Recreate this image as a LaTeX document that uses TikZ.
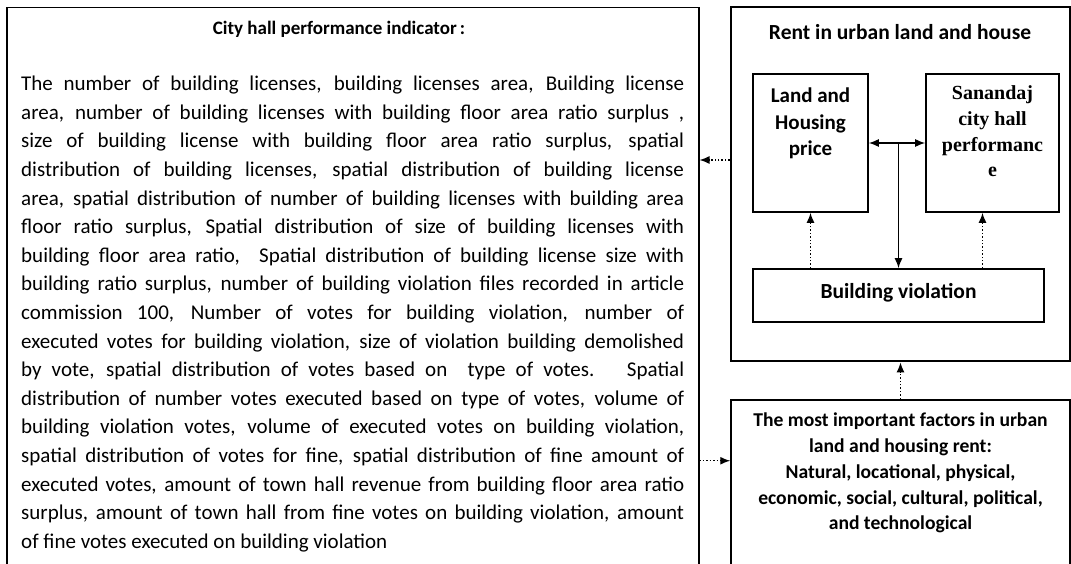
\documentclass[tikz,border=0pt]{standalone}
\usepackage{fontspec}
\setmainfont{Carlito}
\newfontfamily\timesbold{Liberation Serif}
\usetikzlibrary{positioning,calc,arrows.meta}

\tikzset{
  panel/.style={draw, line width=1.5pt, inner sep=0pt},
  box/.style={draw, line width=1.6pt, inner sep=0pt},
  boxtext/.style={align=center, font=\bfseries\fontsize{21}{26.7}\selectfont},
  headline/.style={font=\bfseries\fontsize{19}{24}\selectfont},
  dotarrow/.style={-{Latex[length=10pt,width=8pt]}, dotted, line width=1.4pt},
  solidarrow/.style={-{Latex[length=10pt,width=8pt]}, line width=1.4pt},
}

\begin{document}
\begin{tikzpicture}[x=1pt,y=-1pt]
\useasboundingbox (0,0) rectangle (1071,564);

% left panel: indicators
\node[panel, minimum width=692pt, minimum height=600pt, anchor=north west] (indic) at (6,7) {};
\node[headline] (indictitle) at (339,29) {City hall performance indicator\,:};
\node[anchor=north west, inner sep=0pt, text width=663pt, align=justify,
      font=\fontsize{21}{28.6}\selectfont] (indictext) at (21,76)
{The number of building licenses, building licenses area, Building license\linebreak
area, number of building licenses with building floor area ratio surplus ,\linebreak
size of building license with building floor area ratio surplus, spatial\linebreak
distribution of building licenses, spatial distribution of building license\linebreak
area, spatial distribution of number of building licenses with building area\linebreak
floor ratio surplus, Spatial distribution of size of building licenses with\linebreak
building floor area ratio, \ Spatial distribution of building license size with\linebreak
building ratio surplus, number of building violation files recorded in article\linebreak
commission 100, Number of votes for building violation, number of\linebreak
executed votes for building violation, size of violation building demolished\linebreak
by vote, spatial distribution of votes based on \ type of votes. \ Spatial\linebreak
distribution of number votes executed based on type of votes, volume of\linebreak
building violation votes, volume of executed votes on building violation,\linebreak
spatial distribution of votes for fine, spatial distribution of fine amount of\linebreak
executed votes, amount of town hall revenue from building floor area ratio\linebreak
surplus, amount of town hall from fine votes on building violation, amount\linebreak
of fine votes executed on building violation};

% right panel: rent
\node[draw, line width=2.8pt, inner sep=0pt, minimum width=339pt, minimum height=354pt] (rent) at (900.5,184) {};
\node[headline, font=\bfseries\fontsize{21.5}{24}\selectfont] (renttitle) at (900,32) {Rent in urban land and house};
\node[box, minimum width=115pt, minimum height=138pt] (land) at (810.5,143) {};
\node[boxtext] (landtext) at (810.5,123.5) {Land and\\Housing\\price};
\node[box, minimum width=133pt, minimum height=138pt] (city) at (992.5,143) {};
\node[boxtext, font=\timesbold\bfseries\fontsize{20}{25.7}\selectfont] (citytext) at (992.5,131.5)
  {Sanandaj\\city hall\\performanc\\e};
\node[box, minimum width=291pt, minimum height=53pt] (viol) at (898.5,295.5) {};
\node[boxtext, font=\bfseries\fontsize{21.5}{26}\selectfont] (violtext) at (898.5,293) {Building violation};

% bottom panel: factors
\node[panel, minimum width=339pt, minimum height=200pt, anchor=north] (factors) at (900.5,399) {};
\node[align=center, font=\bfseries\fontsize{19.6}{25.8}\selectfont] (factorstext) at (900.5,473)
  {The most important factors in urban\\land and housing rent:\\Natural, locational, physical,\\economic, social, cultural, political,\\and technological};

% connectors
\draw[{Latex[length=10pt,width=8pt]}-{Latex[length=10pt,width=8pt]}, line width=1.4pt] (land.east) -- (city.west);
\draw[solidarrow] (land.east -| viol.north) -- (viol.north);
\draw[dotarrow] (viol.north -| land.south) -- (land.south);
\draw[dotarrow] ([xshift=-10pt]city.south |- viol.north) -- ([xshift=-10pt]city.south);
\draw[dotarrow] (factors.north) -- (rent.south);
\draw[dotarrow] ([yshift=24pt]rent.west) -- ([yshift=24pt]rent.west -| indic.east);
\draw[dotarrow] ([yshift=39pt]factors.west -| indic.east) -- ([yshift=39pt]factors.west);
\end{tikzpicture}
\end{document}
